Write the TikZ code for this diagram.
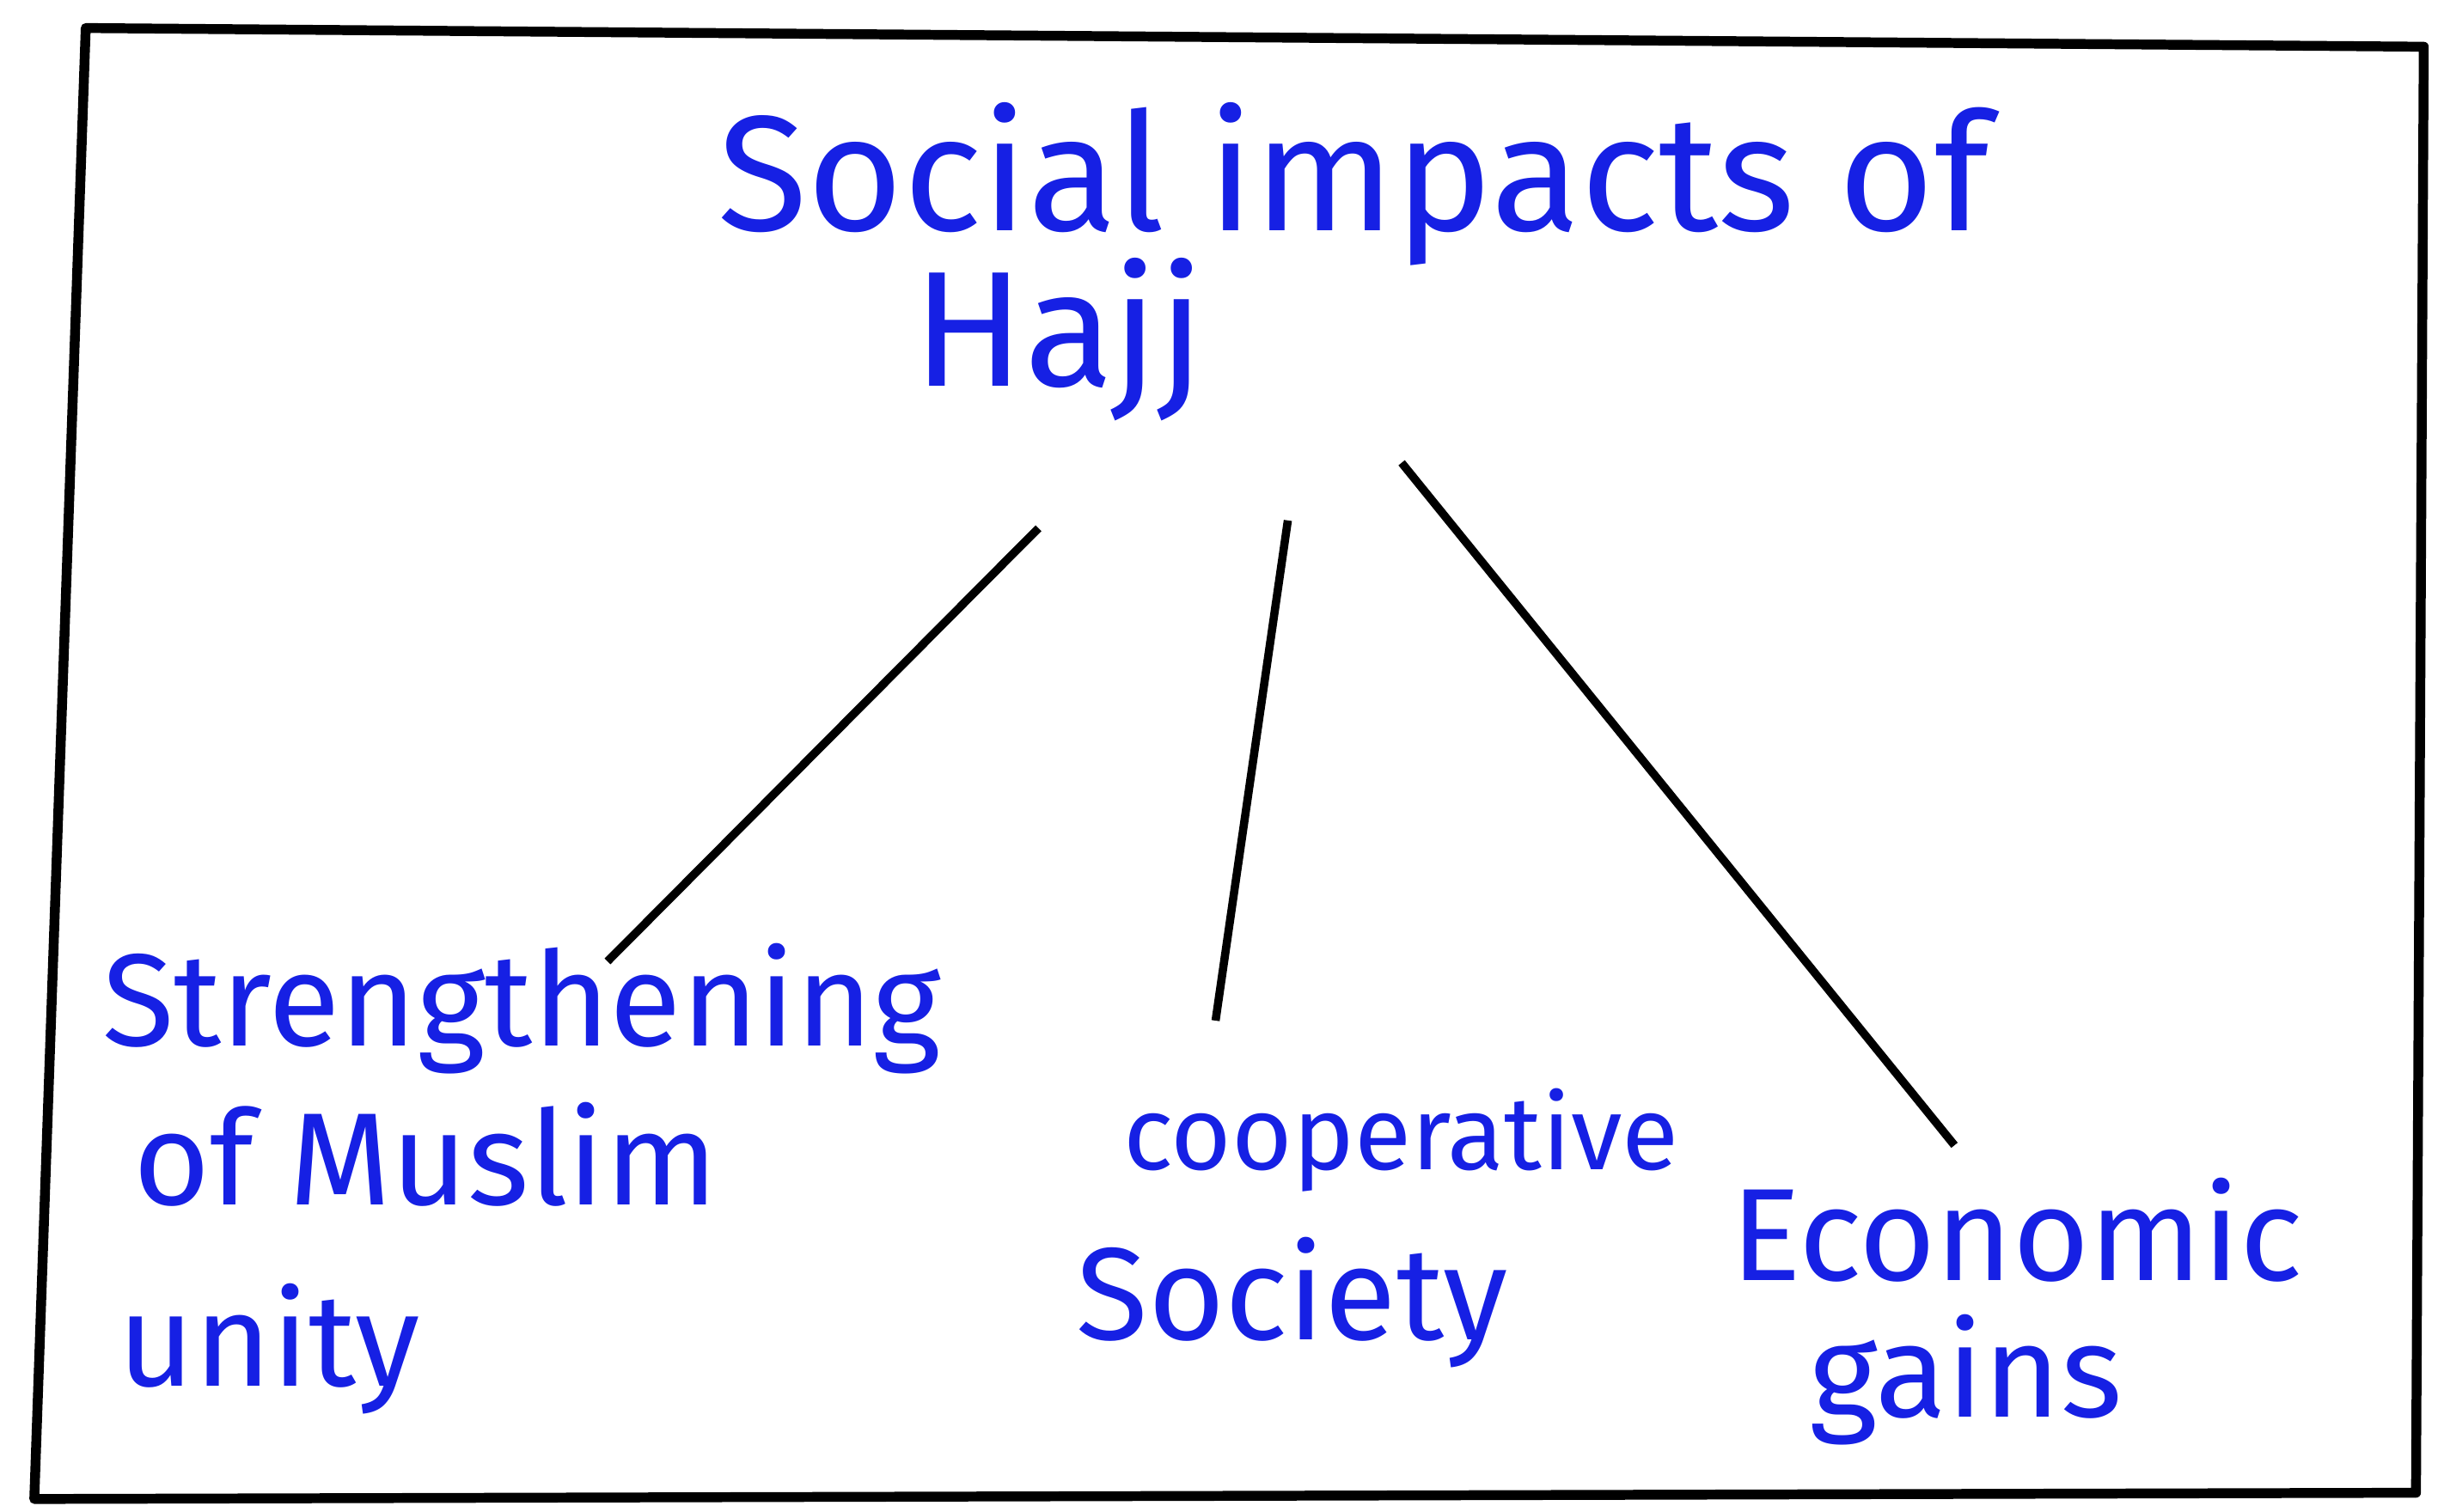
\documentclass[tikz,border=0pt]{standalone}
\usepackage{fontspec}
\setmainfont{Fira Sans}
\usepackage{tikz}
\usetikzlibrary{positioning}
\definecolor{inkblue}{RGB}{22,32,228}

\begin{document}
\begin{tikzpicture}
	  		\tikzstyle{head}=[text=inkblue, inner sep=0pt, font=\fontsize{30}{34}\selectfont]
	  		\tikzstyle{leaf}=[text=inkblue, inner sep=0pt, align=left, font=\fontsize{24}{27}\selectfont]
	  		\tikzstyle{connect}=[line width=1.5pt, black]
	  		\useasboundingbox (0,0) rectangle (15.68,9.70);
	  		% hand drawn frame
	  		\draw[line width=1.8pt, line join=round] (0.55,9.52) -- (15.55,9.40) -- (15.50,0.12) -- (0.22,0.08) -- cycle;
	  		\node[head, anchor=north west] (title) at (4.6,9.05) {Social impacts of};
	  		\node[head, anchor=north west] (hajj) at (5.85,8.05) {Hajj};
	  		\node[leaf, anchor=north west] (unity) at (0.65,3.65) {Strengthening\\[2pt]\hspace*{2mm}of Muslim\\[6pt]\hspace*{1mm}unity};
	  		\node[leaf, anchor=north west] (coop) at (6.9,2.72) {\hspace*{3mm}{\fontsize{19}{22}\selectfont cooperative}\\[4pt]Society};
	  		\node[leaf, anchor=north west] (econ) at (11.1,2.15) {Economic\\[-2pt]\hspace*{5mm}gains};
	  		\path
	  		([xshift=-1.3mm, yshift=-6.8mm]hajj.south) edge [connect] ([xshift=5.5mm, yshift=-1.2mm]unity.north)
	  		([xshift=14.7mm, yshift=-6.3mm]hajj.south) edge [connect] ([xshift=-10.4mm, yshift=4.3mm]coop.north)
	  		([xshift=22mm, yshift=-2.6mm]hajj.south) edge [connect] ([xshift=-4mm, yshift=2mm]econ.north);
\end{tikzpicture}
\end{document}
